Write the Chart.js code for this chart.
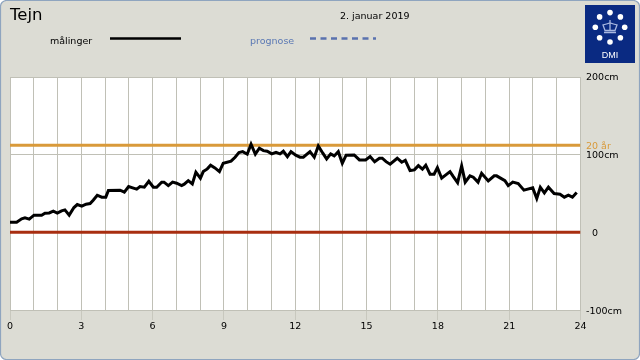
<!DOCTYPE html>
<html>
<head>
<meta charset="utf-8">
<style>
html, body { margin: 0; padding: 0; background: #fff; }
canvas { display: block; }
</style>
<script src="https://cdn.jsdelivr.net/npm/chart.js@4/dist/chart.umd.min.js"></script>
</head>
<body>
<canvas id="tejn" width="640" height="360"></canvas>
<script>
const hours = [0, 0.28, 0.49, 0.63, 0.81, 1.01, 1.33, 1.47, 1.65, 1.82, 1.99, 2.17, 2.31, 2.49, 2.69, 2.83, 3.02, 3.2, 3.37, 3.5, 3.67, 3.86, 4.03, 4.14, 4.63, 4.81, 4.99, 5.16, 5.33, 5.47, 5.65, 5.84, 6.03, 6.17, 6.38, 6.48, 6.66, 6.84, 7.01, 7.22, 7.33, 7.5, 7.67, 7.82, 8.01, 8.13, 8.3, 8.44, 8.62, 8.81, 8.97, 9.3, 9.47, 9.63, 9.79, 9.98, 10.14, 10.32, 10.49, 10.66, 10.82, 11.01, 11.19, 11.36, 11.5, 11.67, 11.82, 12.02, 12.2, 12.34, 12.62, 12.8, 12.97, 13.16, 13.32, 13.49, 13.64, 13.81, 13.98, 14.14, 14.48, 14.7, 14.96, 15.15, 15.34, 15.54, 15.66, 15.82, 15.99, 16.29, 16.48, 16.63, 16.83, 17.01, 17.18, 17.35, 17.49, 17.67, 17.84, 17.98, 18.16, 18.51, 18.65, 18.83, 19, 19.15, 19.35, 19.49, 19.69, 19.84, 20.12, 20.37, 20.47, 20.82, 20.96, 21.15, 21.38, 21.62, 21.99, 22.16, 22.31, 22.48, 22.65, 22.89, 23.14, 23.32, 23.49, 23.66, 23.84];
const maalinger = [13.1, 13.1, 17.4, 18.6, 17, 22.1, 22.1, 24.7, 25, 27.3, 24.7, 27.6, 28.9, 22.1, 31.9, 35.8, 33.7, 36.3, 37, 41.4, 47.8, 45.3, 45.3, 53.8, 54.3, 51.7, 58.9, 57.2, 55.6, 58.9, 58.1, 65.8, 58.1, 58.1, 64.6, 64.6, 60.2, 64.6, 63.3, 60.2, 62, 66.6, 62.4, 77.4, 69.7, 78.2, 81.7, 86.4, 82.9, 78.2, 89, 91.6, 96.7, 102.6, 103.9, 100.6, 113.4, 100.6, 108.3, 105.2, 104.4, 101, 103.1, 101, 104.4, 97.5, 103.9, 99.3, 96.7, 96.7, 103.9, 96.7, 111.2, 101.9, 94.5, 101, 98.4, 103.9, 89, 99.3, 99.7, 93.2, 93.2, 97.5, 91, 95.4, 95.4, 91, 87.7, 95.4, 90.3, 92.8, 79.5, 80.4, 85.9, 81.3, 86.4, 74.8, 74.8, 83.3, 69.7, 78.2, 71.8, 64, 85.5, 64.6, 72.7, 71, 64.6, 76.1, 66.2, 72.7, 72.7, 66.6, 60.2, 64.6, 62.8, 54.3, 57.2, 43.5, 58.1, 50.8, 58.1, 49.9, 49.1, 45.3, 47.8, 45.3, 51.2];
const hourRange = [0, 24];
const yTicks = [-100, 0, 100, 200];
const level20aar = 112;
const levelNul = 0;

const font = "'DejaVu Sans', sans-serif";
const sideBg = '#dcdcd4';

// panel, logo and header texts around the plot
const panelPlugin = {
    id: 'panel',
    beforeDraw(chart) {
        const c = chart.ctx, a = chart.chartArea;
        c.save();
        c.beginPath();
        c.roundRect(0.5, 0.5, 639, 359, 6);
        c.fillStyle = sideBg;
        c.fill();
        c.strokeStyle = '#8fa5bf';
        c.lineWidth = 1.2;
        c.stroke();
        c.fillStyle = '#fff';
        c.fillRect(a.left, a.top, a.right - a.left, a.bottom - a.top);
        c.restore();
    },
    afterDraw(chart) {
        const c = chart.ctx, y = chart.scales.y;
        c.save();
        c.textBaseline = 'middle';
        c.textAlign = 'left';
        c.fillStyle = '#000';
        c.font = '16.5px ' + font;
        c.fillText('Tejn', 10, 15.5);
        c.font = '9.5px ' + font;
        c.fillText('2. januar 2019', 340, 17);
        c.fillText('målinger', 50, 41.5);
        yTicks.forEach(v => {
            // y labels sit a little under their gridline in the reference
            c.fillText(v === 0 ? '  0' : v + 'cm', 586, y.getPixelForValue(v) + (v < 0 ? 2 : 1));
        });
        c.fillStyle = '#5a78b4';
        c.fillText('prognose', 250, 41.5);
        c.fillStyle = '#d99a3a';
        c.fillText('20 år', 586, y.getPixelForValue(level20aar) + 1.5);

        c.strokeStyle = '#000';
        c.lineWidth = 2.5;
        c.beginPath(); c.moveTo(110, 38.5); c.lineTo(181, 38.5); c.stroke();
        c.strokeStyle = '#5a72ae';
        c.setLineDash([6, 4.5]);
        c.beginPath(); c.moveTo(310, 38.5); c.lineTo(376, 38.5); c.stroke();
        c.setLineDash([]);

        // DMI logo
        c.fillStyle = '#0a2a82';
        c.fillRect(585, 5, 50, 58);
        c.fillStyle = '#fff';
        for (let i = 0; i < 8; i++) {
            const t = i * Math.PI / 4;
            c.beginPath();
            c.arc(610 + 14.7 * Math.sin(t), 27.3 - 14.7 * Math.cos(t), 2.8, 0, Math.PI * 2);
            c.fill();
        }
        c.strokeStyle = '#a9b8e0';
        c.lineWidth = 1.3;
        c.beginPath();
        c.moveTo(604, 32.5); c.lineTo(616, 32.5);
        c.moveTo(605, 30.5); c.lineTo(603, 25); c.lineTo(606.5, 24); c.lineTo(610, 23);
        c.lineTo(613.5, 24); c.lineTo(617, 25); c.lineTo(615, 30.5); c.closePath();
        c.moveTo(610, 20); c.lineTo(610, 30.5);
        c.stroke();
        c.fillStyle = '#fff';
        c.textAlign = 'center';
        c.font = "9px 'Liberation Sans', sans-serif";
        c.fillText('DMI', 610, 55.5);
        c.restore();
    }
};

new Chart(document.getElementById('tejn').getContext('2d'), {
    type: 'line',
    data: {
        // first dataset is painted last, so the measured line stays on top
        datasets: [
            {
                label: 'målinger',
                data: hours.map((h, i) => ({ x: h, y: maalinger[i] })),
                borderColor: '#000',
                borderWidth: 3,
                pointRadius: 0,
                tension: 0
            },
            {
                label: '20 år',
                data: hourRange.map(h => ({ x: h, y: level20aar })),
                borderColor: '#d99a3a',
                borderWidth: 3,
                pointRadius: 0
            },
            {
                label: '0',
                data: hourRange.map(h => ({ x: h, y: levelNul })),
                borderColor: '#a82e10',
                borderWidth: 3,
                pointRadius: 0
            }
        ]
    },
    options: {
        responsive: false,
        animation: false,
        layout: { padding: { left: 10, top: 77, right: 0, bottom: 0 } },
        plugins: { legend: { display: false }, tooltip: { enabled: false } },
        scales: {
            x: {
                type: 'linear',
                min: hourRange[0],
                max: hourRange[1],
                afterFit: (s) => { s.height = 50; },
                border: { color: '#c0c0b6' },
                grid: {
                    color: '#c0c0b6',
                    tickLength: 10,
                    tickColor: (ctx) => ctx.tick && ctx.tick.value % 3 === 0 ? '#c8c8be' : 'rgba(0,0,0,0)'
                },
                ticks: {
                    stepSize: 1,
                    autoSkip: false,
                    maxRotation: 0,
                    padding: 1,
                    color: '#000',
                    font: { family: font, size: 9.5 },
                    callback: (v) => v % 3 === 0 ? String(v) : ''
                }
            },
            y: {
                position: 'right',
                min: yTicks[0],
                max: yTicks[yTicks.length - 1],
                afterFit: (s) => { s.width = 59.5; },
                afterBuildTicks: (s) => { s.ticks = yTicks.map(v => ({ value: v })); },
                border: { color: '#c0c0b6' },
                grid: { color: '#c0c0b6', drawTicks: false },
                ticks: { display: false }
            }
        }
    },
    plugins: [panelPlugin]
});
</script>
</body>
</html>
